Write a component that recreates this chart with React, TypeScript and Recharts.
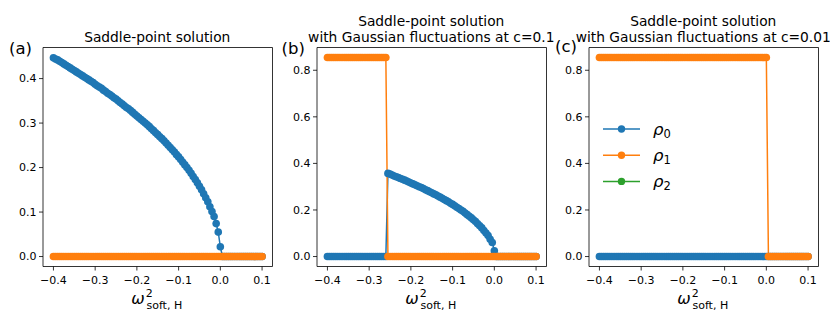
import { LineChart, Line, XAxis, YAxis, ReferenceArea, Legend } from 'recharts';

// omega^2_soft,H grid
const omega = [
    -0.4, -0.395, -0.39, -0.385, -0.38, -0.375, -0.37, -0.365, -0.36, -0.355,
    -0.35, -0.345, -0.34, -0.335, -0.33, -0.325, -0.32, -0.315, -0.31, -0.305,
    -0.3, -0.295, -0.29, -0.285, -0.28, -0.275, -0.27, -0.265, -0.26, -0.255,
    -0.25, -0.245, -0.24, -0.235, -0.23, -0.225, -0.22, -0.215, -0.21, -0.205,
    -0.2, -0.195, -0.19, -0.185, -0.18, -0.175, -0.17, -0.165, -0.16, -0.155,
    -0.15, -0.145, -0.14, -0.135, -0.13, -0.125, -0.12, -0.115, -0.11, -0.105,
    -0.1, -0.095, -0.09, -0.085, -0.08, -0.075, -0.07, -0.065, -0.06, -0.055,
    -0.05, -0.045, -0.04, -0.035, -0.03, -0.025, -0.02, -0.015, -0.01, -0.005,
    0, 0.005, 0.01, 0.015, 0.02, 0.025, 0.03, 0.035, 0.04, 0.045,
    0.05, 0.055, 0.06, 0.065, 0.07, 0.075, 0.08, 0.085, 0.09, 0.095, 0.1,
];

// (a) saddle-point
const rho0A = [
    0.447, 0.444, 0.442, 0.439, 0.436, 0.433, 0.43, 0.427, 0.424, 0.421,
    0.418, 0.415, 0.412, 0.409, 0.406, 0.403, 0.4, 0.397, 0.394, 0.391,
    0.387, 0.384, 0.381, 0.378, 0.374, 0.371, 0.367, 0.364, 0.361, 0.357,
    0.354, 0.35, 0.346, 0.343, 0.339, 0.335, 0.332, 0.328, 0.324, 0.32,
    0.316, 0.312, 0.308, 0.304, 0.3, 0.296, 0.292, 0.287, 0.283, 0.278,
    0.274, 0.269, 0.265, 0.26, 0.255, 0.25, 0.245, 0.24, 0.235, 0.229,
    0.224, 0.218, 0.212, 0.206, 0.2, 0.194, 0.187, 0.18, 0.173, 0.166,
    0.158, 0.15, 0.141, 0.132, 0.123, 0.112, 0.101, 0.09, 0.074, 0.055,
    0.022, 0, 0, 0, 0, 0, 0, 0, 0, 0,
    0, 0, 0, 0, 0, 0, 0, 0, 0, 0, 0,
];
const rho1A = [
    0, 0, 0, 0, 0, 0, 0, 0, 0, 0,
    0, 0, 0, 0, 0, 0, 0, 0, 0, 0,
    0, 0, 0, 0, 0, 0, 0, 0, 0, 0,
    0, 0, 0, 0, 0, 0, 0, 0, 0, 0,
    0, 0, 0, 0, 0, 0, 0, 0, 0, 0,
    0, 0, 0, 0, 0, 0, 0, 0, 0, 0,
    0, 0, 0, 0, 0, 0, 0, 0, 0, 0,
    0, 0, 0, 0, 0, 0, 0, 0, 0, 0,
    0, 0, 0, 0, 0, 0, 0, 0, 0, 0,
    0, 0, 0, 0, 0, 0, 0, 0, 0, 0, 0,
];

// (b) c = 0.1
const rho0B = [
    0, 0, 0, 0, 0, 0, 0, 0, 0, 0,
    0, 0, 0, 0, 0, 0, 0, 0, 0, 0,
    0, 0, 0, 0, 0, 0, 0, 0, 0, 0.357,
    0.354, 0.35, 0.346, 0.343, 0.339, 0.335, 0.332, 0.328, 0.324, 0.32,
    0.316, 0.312, 0.308, 0.304, 0.3, 0.296, 0.292, 0.287, 0.283, 0.278,
    0.274, 0.269, 0.265, 0.26, 0.255, 0.25, 0.245, 0.24, 0.235, 0.229,
    0.224, 0.218, 0.212, 0.206, 0.2, 0.194, 0.187, 0.18, 0.173, 0.166,
    0.158, 0.15, 0.141, 0.132, 0.123, 0.112, 0.101, 0.09, 0.074, 0.06,
    0.025, 0, 0, 0, 0, 0, 0, 0, 0, 0,
    0, 0, 0, 0, 0, 0, 0, 0, 0, 0, 0,
];
const rho1B = [
    0.855, 0.855, 0.855, 0.855, 0.855, 0.855, 0.855, 0.855, 0.855, 0.855,
    0.855, 0.855, 0.855, 0.855, 0.855, 0.855, 0.855, 0.855, 0.855, 0.855,
    0.855, 0.855, 0.855, 0.855, 0.855, 0.855, 0.855, 0.855, 0.855, 0,
    0, 0, 0, 0, 0, 0, 0, 0, 0, 0,
    0, 0, 0, 0, 0, 0, 0, 0, 0, 0,
    0, 0, 0, 0, 0, 0, 0, 0, 0, 0,
    0, 0, 0, 0, 0, 0, 0, 0, 0, 0,
    0, 0, 0, 0, 0, 0, 0, 0, 0, 0,
    0, 0, 0, 0, 0, 0, 0, 0, 0, 0,
    0, 0, 0, 0, 0, 0, 0, 0, 0, 0, 0,
];

// (c) c = 0.01
const rho0C = rho1A;
const rho1C = [
    0.855, 0.855, 0.855, 0.855, 0.855, 0.855, 0.855, 0.855, 0.855, 0.855,
    0.855, 0.855, 0.855, 0.855, 0.855, 0.855, 0.855, 0.855, 0.855, 0.855,
    0.855, 0.855, 0.855, 0.855, 0.855, 0.855, 0.855, 0.855, 0.855, 0.855,
    0.855, 0.855, 0.855, 0.855, 0.855, 0.855, 0.855, 0.855, 0.855, 0.855,
    0.855, 0.855, 0.855, 0.855, 0.855, 0.855, 0.855, 0.855, 0.855, 0.855,
    0.855, 0.855, 0.855, 0.855, 0.855, 0.855, 0.855, 0.855, 0.855, 0.855,
    0.855, 0.855, 0.855, 0.855, 0.855, 0.855, 0.855, 0.855, 0.855, 0.855,
    0.855, 0.855, 0.855, 0.855, 0.855, 0.855, 0.855, 0.855, 0.855, 0.855,
    0.855, 0, 0, 0, 0, 0, 0, 0, 0, 0,
    0, 0, 0, 0, 0, 0, 0, 0, 0, 0, 0,
];

const xTicks = [-0.4, -0.3, -0.2, -0.1, 0.0, 0.1];
const yTicksA = [0, 0.1, 0.2, 0.3, 0.4];
const yTicksBC = [0, 0.2, 0.4, 0.6, 0.8];
const legendLabels = ['0', '1', '2'];
const titleTop = 'Saddle-point solution';
const titleB = 'with Gaussian fluctuations at c=0.1';
const titleC = 'with Gaussian fluctuations at c=0.01';

const C0 = '#1f77b4';
const C1 = '#ff7f0e';
const C2 = '#2ca02c';
const FONT = '"DejaVu Sans", sans-serif';

const X_DOMAIN: [number, number] = [-0.425, 0.125];
const Y_W = 45;
const PLOT_W = 229.5;
const PLOT_TOP = 47.5;
const PLOT_H = 219;
const X_H = 40;

const rows = (ys: number[]) => omega.map((x, i) => ({ x, y: ys[i] }));
const fmt = (v: number) => v.toFixed(1).replace('-', '\u2212');

const renderLegend = () => (
    <svg width={90} height={80} style={{ display: 'block' }}>
        {legendLabels.map((sub, i) => {
            const y = 14 + i * 26.2;
            const c = [C0, C1, C2][i];
            return (
                <g key={sub}>
                    <line x1={2} x2={39} y1={y} y2={y} stroke={c} strokeWidth={1.5} />
                    <circle cx={20.5} cy={y} r={3.7} fill={c} />
                    <text x={52} y={y + 5.5} fontSize={16.5} fontStyle="italic" fontFamily={FONT} fill="#000">ρ</text>
                    <text x={62.5} y={y + 9} fontSize={11.5} fontFamily={FONT} fill="#000">{sub}</text>
                </g>
            );
        })}
    </svg>
);

type PanelProps = {
    plotLeft: number;
    r0: number[];
    r1: number[];
    yMax: number;
    yTicks: number[];
    legend?: boolean;
};

function Panel({ plotLeft, r0, r1, yMax, yTicks, legend }: PanelProps) {
    const pad = yMax * 0.05;
    const yDomain: [number, number] = [-pad, yMax + pad];
    const left = plotLeft - Y_W;
    return (
        <div style={{ position: 'absolute', left, top: 0 }}>
            <LineChart
                width={Y_W + PLOT_W + 5}
                height={332}
                margin={{ top: PLOT_TOP, right: 5, left: 0, bottom: 332 - PLOT_TOP - PLOT_H - X_H }}
            >
                <XAxis
                    dataKey="x"
                    type="number"
                    domain={X_DOMAIN}
                    ticks={xTicks}
                    allowDataOverflow
                    height={X_H}
                    axisLine={false}
                    tickLine={{ stroke: '#000', strokeWidth: 0.8 }}
                    tickSize={4}
                    tickMargin={6}
                    tick={{ fill: '#000', fontSize: 11, fontFamily: FONT }}
                    tickFormatter={fmt}
                    interval={0}
                />
                <YAxis
                    type="number"
                    domain={yDomain}
                    ticks={yTicks}
                    allowDataOverflow
                    width={Y_W}
                    axisLine={false}
                    tickLine={{ stroke: '#000', strokeWidth: 0.8 }}
                    tickSize={4}
                    tickMargin={2.5}
                    tick={{ fill: '#000', fontSize: 11, fontFamily: FONT }}
                    tickFormatter={fmt}
                    interval={0}
                />
                <Line
                    data={rows(r0)}
                    dataKey="y"
                    type="linear"
                    stroke={C0}
                    strokeWidth={1.5}
                    dot={{ r: 3.8, fill: C0, stroke: C0, strokeWidth: 0 }}
                    activeDot={false}
                    isAnimationActive={false}
                />
                <Line
                    data={rows(r1)}
                    dataKey="y"
                    type="linear"
                    stroke={C1}
                    strokeWidth={1.5}
                    dot={{ r: 3.8, fill: C1, stroke: C1, strokeWidth: 0 }}
                    activeDot={false}
                    isAnimationActive={false}
                />
                <ReferenceArea
                    x1={X_DOMAIN[0]}
                    x2={X_DOMAIN[1]}
                    y1={yDomain[0]}
                    y2={yDomain[1]}
                    fill="none"
                    stroke="#000"
                    strokeWidth={0.8}
                    ifOverflow="visible"
                />
                {legend && (
                    <Legend
                        layout="vertical"
                        align="center"
                        verticalAlign="middle"
                        content={renderLegend}
                        wrapperStyle={{ left: 601 - left, top: 115.3, width: 90, height: 80 }}
                    />
                )}
            </LineChart>
        </div>
    );
}

function XLabel({ cx }: { cx: number }) {
    return (
        <g fontFamily={FONT} fill="#000">
            <text x={cx - 26} y={304} fontSize={16} fontStyle="italic">ω</text>
            <text x={cx - 11.5} y={296.5} fontSize={11}>2</text>
            <text x={cx - 10.8} y={308.5} fontSize={11}>soft, H</text>
        </g>
    );
}

export default function App() {
    const centers = [42.5 + PLOT_W / 2, 316.5 + PLOT_W / 2, 588.5 + PLOT_W / 2];
    return (
        <div style={{ position: 'relative', width: 830, height: 332, background: '#fff', overflow: 'hidden' }}>
            <style>{`body{margin:0}`}</style>
            <Panel plotLeft={42.5} r0={rho0A} r1={rho1A} yMax={0.4475} yTicks={yTicksA} />
            <Panel plotLeft={316.5} r0={rho0B} r1={rho1B} yMax={0.855} yTicks={yTicksBC} />
            <Panel plotLeft={588.5} r0={rho0C} r1={rho1C} yMax={0.855} yTicks={yTicksBC} legend />
            <svg
                width={830}
                height={332}
                style={{ position: 'absolute', left: 0, top: 0, pointerEvents: 'none' }}
            >
                <g fontFamily={FONT} fill="#000" fontSize={13.8} textAnchor="middle">
                    <text x={centers[0]} y={41.5}>{titleTop}</text>
                    <text x={centers[1]} y={26}>{titleTop}</text>
                    <text x={centers[1]} y={41.5}>{titleB}</text>
                    <text x={centers[2]} y={26}>{titleTop}</text>
                    <text x={centers[2]} y={41.5}>{titleC}</text>
                </g>
                <g fontFamily={FONT} fill="#000" fontSize={16.5}>
                    <text x={9} y={54}>(a)</text>
                    <text x={281.5} y={54}>(b)</text>
                    <text x={555} y={52}>(c)</text>
                </g>
                {centers.map((cx) => (
                    <XLabel key={cx} cx={cx} />
                ))}
            </svg>
        </div>
    );
}
